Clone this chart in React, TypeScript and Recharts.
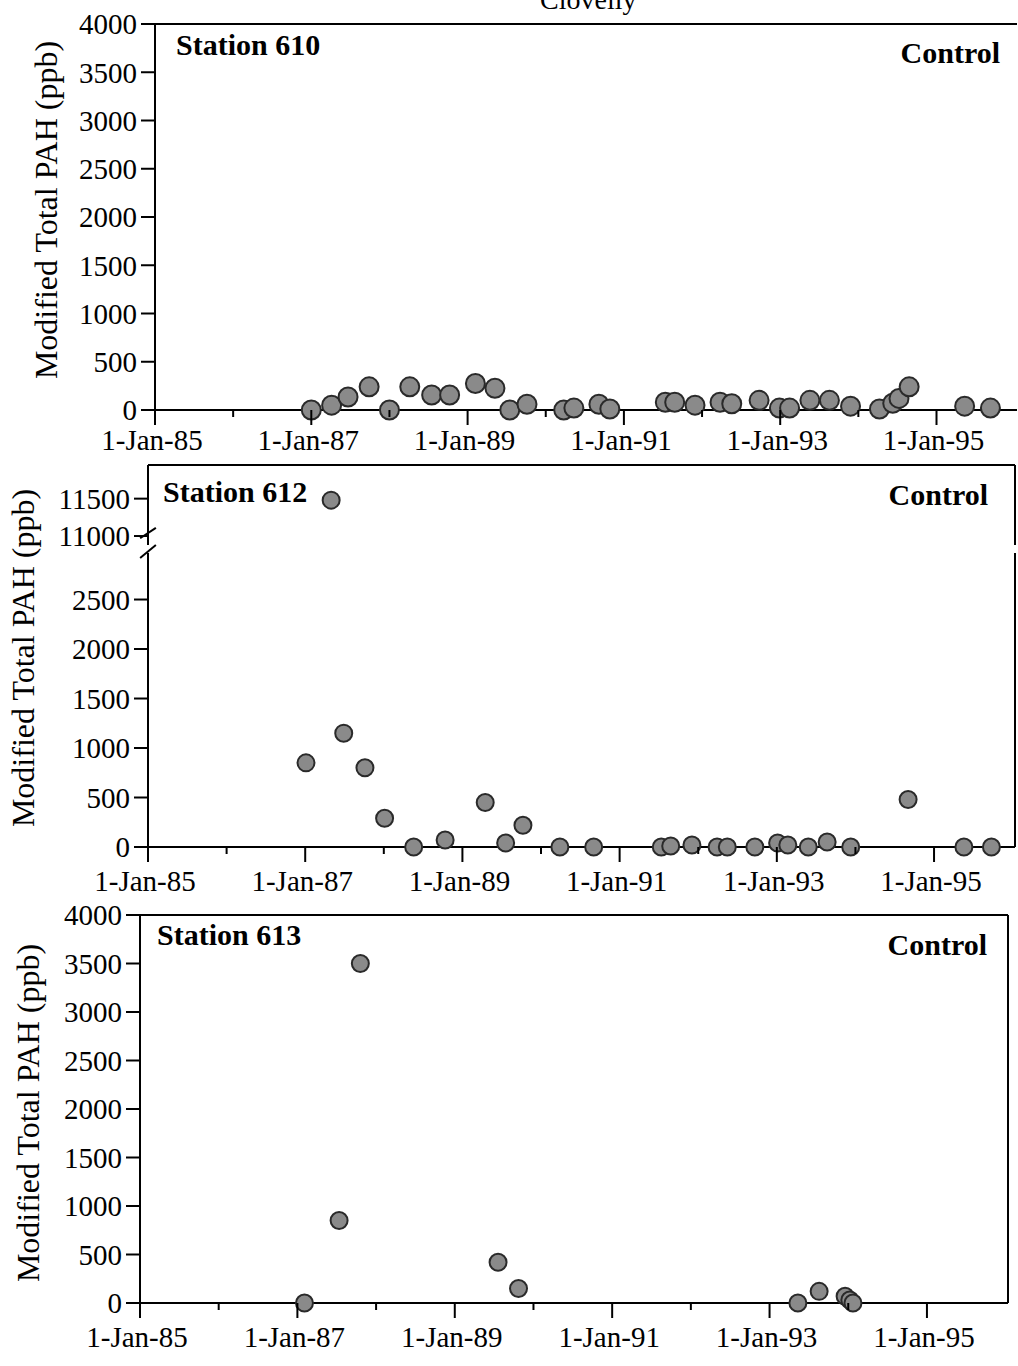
import { Label, ReferenceLine, Scatter, ScatterChart, XAxis, YAxis } from 'recharts';

const SERIF = "'Liberation Serif', 'Times New Roman', 'DejaVu Serif', serif";
const Y_TITLE = 'Modified Total PAH (ppb)';

// x values are decimal years
const yearTicks = [1985, 1986, 1987, 1988, 1989, 1990, 1991, 1992, 1993, 1994, 1995];
const xDomain: [number, number] = [1985, 1996.03];
const pahTicks = [0, 500, 1000, 1500, 2000, 2500, 3000, 3500, 4000];
const pahTicksLow = [0, 500, 1000, 1500, 2000, 2500];
const pahTicksHigh = [11000, 11500];
const BREAK = 3000;

const st610Dates = [
  1987.0, 1987.26, 1987.47, 1987.74, 1988.0, 1988.26, 1988.54, 1988.77, 1989.1, 1989.35, 1989.54,
  1989.76, 1990.23, 1990.36, 1990.68, 1990.82, 1991.53, 1991.65, 1991.91, 1992.23, 1992.38, 1992.73,
  1992.99, 1993.12, 1993.38, 1993.63, 1993.9, 1994.27, 1994.44, 1994.52, 1994.65, 1995.36, 1995.69,
];
const st610Values = [
  0, 50, 135, 240, 0, 240, 155, 155, 275, 225, 0,
  60, 0, 20, 60, 10, 80, 80, 50, 80, 65, 100,
  20, 20, 100, 100, 40, 10, 70, 120, 240, 40, 20,
];

const st612Dates = [
  1987.01, 1987.33, 1987.49, 1987.76, 1988.01, 1988.38, 1988.78, 1989.29, 1989.55, 1989.77, 1990.24,
  1990.67, 1991.53, 1991.65, 1991.92, 1992.24, 1992.37, 1992.72, 1993.01, 1993.14, 1993.4, 1993.64,
  1993.94, 1994.67, 1995.38, 1995.73,
];
const st612Values = [
  850, 11480, 1150, 800, 290, 0, 70, 450, 40, 220, 0,
  0, 0, 10, 20, 0, 0, 0, 40, 20, 0, 50,
  0, 480, 0, 0,
];

const st613Dates = [1987.09, 1987.53, 1987.8, 1989.55, 1989.81, 1993.36, 1993.63, 1993.96, 1994.02, 1994.06];
const st613Values = [0, 850, 3500, 420, 150, 0, 120, 70, 30, 0];

type Pt = { x: number; y: number };
const toRows = (dates: number[], values: number[]): Pt[] => dates.map((d, i) => ({ x: d, y: values[i] }));

const rows610 = toRows(st610Dates, st610Values);
const rows612 = toRows(st612Dates, st612Values);
const rows612Low = rows612.filter((r) => r.y < BREAK);
const rows612High = rows612.filter((r) => r.y >= BREAK);
const rows613 = toRows(st613Dates, st613Values);

const dot = (r: number) => (p: any) => (
  <circle cx={p.cx} cy={p.cy} r={r} fill="#8a8a8a" stroke="#2a2a2a" strokeWidth={2} />
);

const yearTick = (labelDy: number) => (p: any) => {
  const yr = p.payload.value as number;
  const major = yr % 2 === 1;
  return (
    <g>
      <line x1={p.x} x2={p.x} y1={p.y} y2={p.y + (major ? 15 : 7)} stroke="#000" strokeWidth={2} />
      {major && (
        <text x={p.x - 3} y={p.y + labelDy} textAnchor="middle" fontFamily={SERIF} fontSize={29} fill="#000">
          {`1-Jan-${String(yr).slice(2)}`}
        </text>
      )}
    </g>
  );
};

const yTitle = (x: number, y: number) => (
  <Label
    content={() => (
      <text
        x={x}
        y={y}
        transform={`rotate(-90 ${x} ${y})`}
        textAnchor="middle"
        dominantBaseline="central"
        fontFamily={SERIF}
        fontSize={32}
        fill="#000"
      >
        {Y_TITLE}
      </text>
    )}
  />
);

const cornerLabels = (station: string, sx: number, sy: number, cx: number, cy: number) => (
  <Label
    content={(props: any) => {
      const vb = props.viewBox ?? { x: 0, y: 0, width: 0 };
      return (
        <g fontFamily={SERIF} fontSize={30} fontWeight="bold" fill="#000">
          <text x={vb.x + sx} y={vb.y + sy}>{station}</text>
          <text x={vb.x + vb.width + cx} y={vb.y + cy} textAnchor="end">Control</text>
        </g>
      );
    }}
  />
);

const axisLine = { stroke: '#000', strokeWidth: 2 };
const yTick = { fill: '#000', fontSize: 29, fontFamily: SERIF };

export default function App() {
  return (
    <div style={{ position: 'absolute', left: 0, top: 0, width: 1018, height: 1366, background: '#fff', overflow: 'hidden' }}>
      <svg style={{ position: 'absolute', left: 0, top: 0 }} width={1018} height={20}>
        <text x={540} y={9} fontFamily={SERIF} fontSize={28} fill="#000">Clovelly</text>
      </svg>

      {/* Station 610 */}
      <div style={{ position: 'absolute', left: 0, top: 0 }}>
        <ScatterChart width={1018} height={470} margin={{ top: 24, right: 1, bottom: 0, left: 0 }}>
          <XAxis type="number" dataKey="x" domain={xDomain} ticks={yearTicks} allowDataOverflow interval={0}
            height={60} axisLine={axisLine} tickLine={false} tickSize={0} tickMargin={0} tick={yearTick(40)} />
          <YAxis type="number" dataKey="y" domain={[0, 4000]} ticks={pahTicks} width={155} interval={0}
            axisLine={axisLine} tickLine={axisLine} tickSize={14} tickMargin={4} tick={yTick}>
            {yTitle(46, 210)}
          </YAxis>
          <ReferenceLine y={4000} stroke="#000" strokeWidth={2}>
            {cornerLabels('Station 610', 21, 31, -17, 39)}
          </ReferenceLine>
          <Scatter data={rows610} shape={dot(9.5)} isAnimationActive={false} />
        </ScatterChart>
      </div>

      {/* Station 612, lower part */}
      <div style={{ position: 'absolute', left: 0, top: 455 }}>
        <ScatterChart width={1018} height={452} margin={{ top: 98, right: 3, bottom: 0, left: 0 }}>
          <XAxis type="number" dataKey="x" domain={xDomain} ticks={yearTicks} allowDataOverflow interval={0}
            height={60} axisLine={axisLine} tickLine={false} tickSize={0} tickMargin={0} tick={yearTick(44)} />
          <YAxis type="number" dataKey="y" domain={[0, 2970]} ticks={pahTicksLow} width={148} interval={0}
            axisLine={axisLine} tickLine={axisLine} tickSize={14} tickMargin={4} tick={yTick}>
            {yTitle(23, 203)}
          </YAxis>
          <ReferenceLine x={xDomain[1]} stroke="#000" strokeWidth={2} />
          <ReferenceLine segment={[{ x: 1984.9, y: 2920 }, { x: 1985.1, y: 3050 }]} stroke="#000" strokeWidth={2} ifOverflow="visible" />
          <Scatter data={rows612Low} shape={dot(8.5)} isAnimationActive={false} />
        </ScatterChart>
      </div>

      {/* Station 612, upper part above the break */}
      <div style={{ position: 'absolute', left: 0, top: 455 }}>
        <ScatterChart width={1018} height={110} margin={{ top: 10, right: 3, bottom: 20, left: 0 }}>
          <XAxis type="number" dataKey="x" domain={xDomain} allowDataOverflow hide />
          <YAxis type="number" dataKey="y" domain={[10880, 11950]} ticks={pahTicksHigh} width={148} interval={0}
            axisLine={axisLine} tickLine={axisLine} tickSize={14} tickMargin={4} tick={yTick} />
          <ReferenceLine y={11950} stroke="#000" strokeWidth={2}>
            {cornerLabels('Station 612', 15, 37, -27, 40)}
          </ReferenceLine>
          <ReferenceLine x={xDomain[1]} stroke="#000" strokeWidth={2} />
          <ReferenceLine segment={[{ x: 1984.9, y: 10970 }, { x: 1985.1, y: 11110 }]} stroke="#000" strokeWidth={2} ifOverflow="visible" />
          <Scatter data={rows612High} shape={dot(8.5)} isAnimationActive={false} />
        </ScatterChart>
      </div>

      {/* Station 613 */}
      <div style={{ position: 'absolute', left: 0, top: 900 }}>
        <ScatterChart width={1018} height={466} margin={{ top: 15, right: 10, bottom: 0, left: 0 }}>
          <XAxis type="number" dataKey="x" domain={xDomain} ticks={yearTicks} allowDataOverflow interval={0}
            height={63} axisLine={axisLine} tickLine={false} tickSize={0} tickMargin={0} tick={yearTick(44)} />
          <YAxis type="number" dataKey="y" domain={[0, 4000]} ticks={pahTicks} width={140} interval={0}
            axisLine={axisLine} tickLine={axisLine} tickSize={14} tickMargin={4} tick={yTick}>
            {yTitle(28, 213)}
          </YAxis>
          <ReferenceLine y={4000} stroke="#000" strokeWidth={2}>
            {cornerLabels('Station 613', 17, 30, -21, 40)}
          </ReferenceLine>
          <ReferenceLine x={xDomain[1]} stroke="#000" strokeWidth={2} />
          <Scatter data={rows613} shape={dot(8.5)} isAnimationActive={false} />
        </ScatterChart>
      </div>
    </div>
  );
}
